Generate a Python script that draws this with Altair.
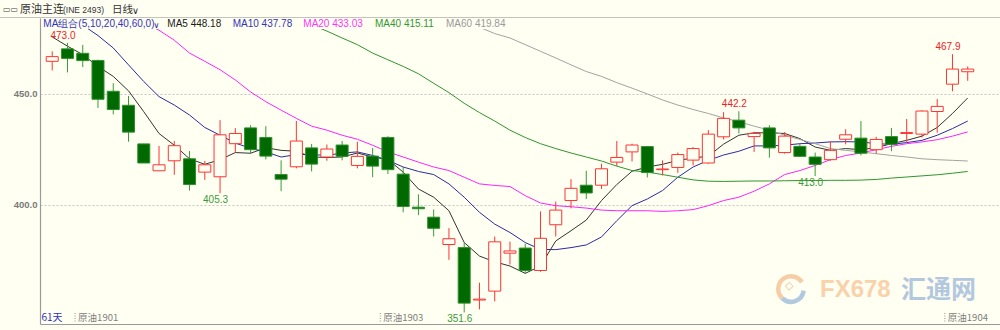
import altair as alt
import pandas as pd

# ---------------- data ----------------
idx = list(range(1, 62))
opens = [464.7, 470.3, 468.3, 465.1, 451.2, 444.9, 427.5, 415.4, 419.9, 420.8,
         414.8, 412.7, 427.6, 434.7, 430.4, 413.7, 417.2, 425.7, 421.6, 427.0,
         417.8, 422.0, 430.4, 413.9, 399.0, 394.5, 382.2, 380.8, 357.2, 361.2,
         378.3, 380.6, 370.5, 391.1, 402.0, 408.9, 408.9, 419.3, 423.9, 426.3,
         415.9, 416.9, 420.2, 418.9, 430.7, 438.2, 430.8, 434.7, 423.6, 426.4,
         421.6, 420.4, 429.6, 430.1, 424.9, 430.8, 432.2, 431.9, 442.1, 454.4,
         460.0]
highs = [469.2, 473.0, 472.1, 465.4, 454.8, 449.1, 427.5, 426.6, 428.8, 424.3,
         419.8, 438.2, 434.6, 435.9, 435.5, 420.1, 437.8, 427.5, 427.2, 428.8,
         428.5, 425.7, 431.0, 417.1, 404.8, 398.0, 389.6, 383.0, 365.0, 385.8,
         383.5, 382.6, 397.1, 401.5, 411.6, 415.4, 418.6, 428.8, 427.6, 426.3,
         420.1, 423.6, 426.1, 433.7, 441.8, 442.2, 432.9, 435.9, 432.8, 427.6,
         423.6, 428.7, 434.1, 437.8, 430.7, 434.7, 438.7, 442.7, 447.7, 467.9,
         462.4]
lows = [460.6, 459.7, 462.1, 443.7, 440.8, 428.5, 418.9, 415.4, 413.6, 406.5,
        411.3, 405.3, 423.4, 423.1, 420.5, 406.2, 416.5, 415.1, 419.9, 420.1,
        416.5, 412.5, 413.9, 396.7, 395.4, 385.8, 375.3, 351.6, 353.0, 356.6,
        373.2, 369.0, 369.9, 385.8, 398.5, 402.7, 407.2, 417.5, 419.6, 412.4,
        413.3, 414.5, 417.8, 418.6, 429.5, 432.2, 423.9, 421.3, 423.1, 421.6,
        413.0, 419.9, 427.3, 422.3, 423.1, 424.2, 428.4, 430.4, 432.5, 451.2,
        455.9]
closes = [466.8, 466.0, 465.0, 447.6, 443.0, 432.8, 418.9, 418.1, 426.7, 409.2,
          418.1, 431.6, 432.2, 424.9, 422.0, 411.6, 428.8, 418.4, 425.2, 421.9,
          421.9, 417.5, 415.9, 399.3, 398.3, 389.5, 384.8, 355.8, 357.6, 383.4,
          379.3, 370.5, 385.0, 397.7, 407.5, 405.4, 416.3, 421.4, 427.0, 414.6,
          416.2, 422.7, 425.4, 431.9, 439.0, 434.7, 432.2, 425.7, 431.0, 421.9,
          418.3, 424.6, 431.6, 423.3, 429.5, 427.3, 432.6, 442.3, 444.4, 461.2,
          461.2]

N = None
ma5 = [475.7, 471.5, 467.7, 462.4, 457.9, 451.4, 442.0, 432.2, 426.9, 420.8,
       418.3, 420.4, 423.6, 423.3, 425.8, 424.6, 424.2, 421.6, 421.4, 421.6,
       423.4, 421.6, 420.5, 414.8, 407.2, 403.5, 397.4, 383.1, 377.0, 374.4,
       372.5, 369.2, 372.5, 383.8, 388.4, 393.2, 402.0, 409.2, 415.2, 417.1,
       418.3, 420.1, 421.1, 422.0, 427.4, 431.4, 432.5, 432.5, 432.2, 429.9,
       426.1, 424.6, 425.4, 424.9, 425.8, 427.6, 429.1, 431.0, 434.9, 441.2,
       448.2]
ma10 = [N, N, 481.0, 476.3, 470.7, 463.1, 455.6, 448.8, 445.0, 440.5,
        434.9, 431.4, 427.9, 425.5, 423.9, 421.6, 422.7, 422.7, 422.3, 423.4,
        423.9, 422.3, 420.1, 417.1, 415.1, 413.7, 409.5, 403.5, 396.7, 391.4,
        387.6, 383.1, 380.0, 379.9, 380.8, 382.0, 385.6, 392.9, 399.7, 402.7,
        406.5, 412.5, 417.1, 420.1, 422.5, 424.2, 426.6, 426.6, 426.9, 427.6,
        427.9, 428.4, 428.5, 428.4, 427.6, 427.3, 428.1, 429.1, 431.4, 434.4,
        437.8]
ma20 = [N, N, N, N, N, N, 482.0, 478.7, 474.2, 468.4,
        464.7, 460.9, 456.3, 450.9, 446.5, 442.7, 439.0, 435.5, 433.7, 431.4,
        429.6, 426.9, 423.9, 421.6, 419.3, 417.1, 415.5, 412.5, 409.5, 408.8,
        408.3, 404.2, 400.9, 399.7, 399.2, 398.6, 397.7, 397.4, 397.4, 397.4,
        397.1, 397.4, 397.9, 399.7, 402.0, 403.5, 406.2, 409.5, 413.7, 415.5,
        417.8, 420.4, 422.3, 423.4, 424.9, 426.4, 427.6, 428.4, 429.4, 431.0,
        432.9]
ma40 = [N, N, N, N, N, N, N, N, N, N,
        N, N, N, N, N, N, N, 481.2, 478.3, 475.2,
        472.2, 468.4, 465.4, 462.4, 459.1, 454.8, 450.6, 445.8, 441.6, 437.8,
        433.7, 430.4, 427.6, 425.4, 423.4, 421.6, 419.8, 417.5, 415.5, 414.8,
        413.7, 412.5, 411.3, 410.7, 410.6, 410.7, 410.8, 410.8, 410.9, 411.0,
        411.0, 411.1, 411.1, 411.2, 411.5, 412.1, 412.6, 413.1, 413.6, 414.3,
        415.1]
ma60 = [N, N, N, N, N, N, N, N, N, N,
        N, N, N, N, N, N, N, N, N, N,
        N, N, N, N, N, N, N, N, 480.0, 477.2,
        475.2, 472.2, 469.2, 466.2, 463.1, 460.1, 457.9, 455.1, 452.6, 450.0,
        447.3, 445.0, 443.0, 441.2, 439.2, 437.5, 435.5, 433.7, 431.4, 429.5,
        427.6, 425.4, 424.6, 423.9, 423.1, 422.3, 421.6, 420.8, 420.4, 420.1,
        419.8]

ma_names = ["MA5", "MA10", "MA20", "MA40", "MA60"]
ma_series = [ma5, ma10, ma20, ma40, ma60]
ma_last = ["448.18", "437.78", "433.03", "415.11", "419.84"]

high_marks_idx = [2, 46, 60]
low_marks_idx = [12, 28, 51]

contract_pos = [2.5, 22.5, 59.5]
contract_names = ["原油1901", "原油1903", "原油1904"]

# ---------------- styling ----------------
BG = "#fffff2"
RED = "#ff3333"
GREEN_FILL = "#006a00"
GREEN_EDGE = "#2f8f2f"
GREEN_WICK = "#3a9a3a"
MA_COLORS = ["#333333", "#2a2aa8", "#ff22ff", "#2e962e", "#a3a3a3"]
LEG_COLORS = ["#1a1a1a", "#3434b8", "#ff33ff", "#2f9a2f", "#9a9a9a"]
W, H = 960, 306

df = pd.DataFrame({"i": idx, "o": opens, "h": highs, "l": lows, "c": closes})
df["up"] = df["c"] >= df["o"]
df["bt"] = df[["o", "c"]].max(axis=1)
df["bb"] = df[["o", "c"]].min(axis=1)

rows = []
for name, arr in zip(ma_names, ma_series):
    for i, v in zip(idx, arr):
        if v is not None:
            rows.append({"i": i, "v": v, "ma": name})
ma_df = pd.DataFrame(rows)

xs = alt.Scale(domain=[0.527, 62.787], nice=False, zero=False)
ys = alt.Scale(domain=[346.4, 484.2], nice=False, zero=False)
xaxis = alt.Axis(labels=False, ticks=False, grid=False, title=None,
                 domainColor="#9a9a9a", domainWidth=1)
yaxis = alt.Axis(values=[400, 450], format=".1f", title=None, ticks=False,
                 labelPadding=3, labelColor="#7a7a7a", labelFont="Liberation Sans",
                 labelFontSize=9.5, labelFontWeight="bold",
                 grid=True, gridColor="#c4c4c4", gridDash=[2, 2], gridWidth=1,
                 domainColor="#9a9a9a", domainWidth=1.2)


def X(f):
    return alt.X(f"{f}:Q", scale=xs, axis=xaxis)


def Y(f):
    return alt.Y(f"{f}:Q", scale=ys, axis=yaxis)


def label(text, x, y, color, size, font="Liberation Sans", align="left",
          weight="normal", opacity=1.0):
    return alt.Chart(pd.DataFrame({"t": [text]})).mark_text(
        align=align, baseline="middle", color=color, fontSize=size, font=font,
        fontWeight=weight, opacity=opacity
    ).encode(text="t:N", x=alt.value(x), y=alt.value(y))


base = alt.Chart(df)

wick_up = base.transform_filter("datum.up").mark_rule(color=RED, strokeWidth=1).encode(
    x=X("i"), y=Y("l"), y2="h:Q")
wick_dn = base.transform_filter("!datum.up").mark_rule(color=GREEN_WICK, strokeWidth=1).encode(
    x=X("i"), y=Y("l"), y2="h:Q")
body_up = base.transform_filter("datum.up").mark_bar(
    size=12, fill=BG, stroke=RED, strokeWidth=1).encode(x=X("i"), y=Y("bb"), y2="bt:Q")
body_dn = base.transform_filter("!datum.up").mark_bar(
    size=12, fill=GREEN_FILL, stroke=GREEN_EDGE, strokeWidth=1).encode(x=X("i"), y=Y("bb"), y2="bt:Q")

lines = alt.Chart(ma_df).mark_line(strokeWidth=1, clip=True).encode(
    x=X("i"), y=Y("v"),
    color=alt.Color("ma:N", scale=alt.Scale(domain=ma_names, range=MA_COLORS), legend=None))

band = alt.Chart(pd.DataFrame({"a": [0]})).mark_rect(color=BG).encode(
    x=alt.value(1.5), x2=alt.value(W), y=alt.value(0), y2=alt.value(11))

hi_df = df[df["i"].isin(high_marks_idx)][["i", "h"]]
lo_df = df[df["i"].isin(low_marks_idx)][["i", "l"]]
hi_ann = alt.Chart(hi_df).mark_text(color="#ee2222", fontSize=10, font="Liberation Sans",
                                    baseline="bottom", dy=-2, dx=-4.5).encode(
    x=X("i"), y=Y("h"), text=alt.Text("h:Q", format=".1f"))
lo_ann = alt.Chart(lo_df).mark_text(color="#3b9a3b", fontSize=10, font="Liberation Sans",
                                    baseline="top", dy=2, dx=-4.5).encode(
    x=X("i"), y=Y("l"), text=alt.Text("l:Q", format=".1f"))

cdf = pd.DataFrame({"i": contract_pos, "t": contract_names})
c_txt = alt.Chart(cdf).mark_text(align="left", baseline="middle", dx=3, fontSize=9.5,
                                 font="Noto Sans CJK SC", color="#808080").encode(
    x=X("i"), y=alt.value(300), text="t:N")
c_tick = alt.Chart(cdf).mark_rule(color="#909090", strokeDash=[1, 1.5]).encode(
    x=X("i"), y=alt.value(295), y2=alt.value(305))

# header / separator
sep = alt.Chart(pd.DataFrame({"a": [0]})).mark_rule(color="#c3c3bb", strokeWidth=1.2).encode(
    x=alt.value(-40), x2=alt.value(W), y=alt.value(-0.5))
hdr = [
    label("▭▭", -37, -8, "#444444", 8, font="DejaVu Sans"),
    label("原油主连", -20, -8, "#333333", 11, font="Noto Sans CJK SC"),
    label("(INE 2493)", 23, -8, "#333333", 8.5, font="Liberation Sans"),
    label("日线", 72, -8, "#333333", 10.5, font="Noto Sans CJK SC"),
    label("∨", 92, -7.5, "#333333", 9.5, font="DejaVu Sans"),
]

# legend row
leg = [
    label("MA组合(5,10,20,40,60,0)", 3.3, 6.3, "#3333bb", 10),
    label("∨", 113.5, 8, "#222288", 8, font="DejaVu Sans"),
]
leg_x = [127.3, 192.7, 263.3, 335, 406]
for nm, val, col, lx in zip(ma_names, ma_last, LEG_COLORS, leg_x):
    leg.append(label(f"{nm} {val}", lx, 6.3, col, 10))

days = label("61天", 1.5, 300, "#3030c0", 10, font="Noto Sans CJK SC")

# watermark
one = pd.DataFrame({"a": [0]})
logo_o = alt.Chart(one).mark_arc(radius=15, radius2=10.5, theta=3.9, theta2=7.3,
                                 color="#f6c8a0", opacity=0.9).encode(
    x=alt.value(751), y=alt.value(271))
logo_b = alt.Chart(one).mark_arc(radius=15, radius2=10.5, theta=1.7, theta2=3.9,
                                 color="#a9c4de", opacity=0.9).encode(
    x=alt.value(751), y=alt.value(271))
logo_d = label("◇", 745, 268, "#f3b98c", 11, font="DejaVu Sans", weight="bold")
wm1 = label("FX678", 780, 272, "#f9d2ac", 24, font="Liberation Sans", weight="bold")
wm2 = label("汇通网", 861, 272, "#b3c8de", 25, font="Noto Sans CJK SC", weight="bold")

chart = alt.layer(
    logo_o, logo_b, logo_d, wm1, wm2,
    lines, wick_up, wick_dn, body_up, body_dn,
    hi_ann, lo_ann, c_tick, c_txt,
    band, sep, *hdr, *leg, days,
).properties(
    width=W, height=H,
    autosize=alt.AutoSizeParams(type="none"),
    padding={"left": 40, "top": 18, "right": 0, "bottom": 6},
    background=BG,
).configure_view(stroke=None)

chart.save("out.html", embed_options={"renderer": "svg", "actions": False})
